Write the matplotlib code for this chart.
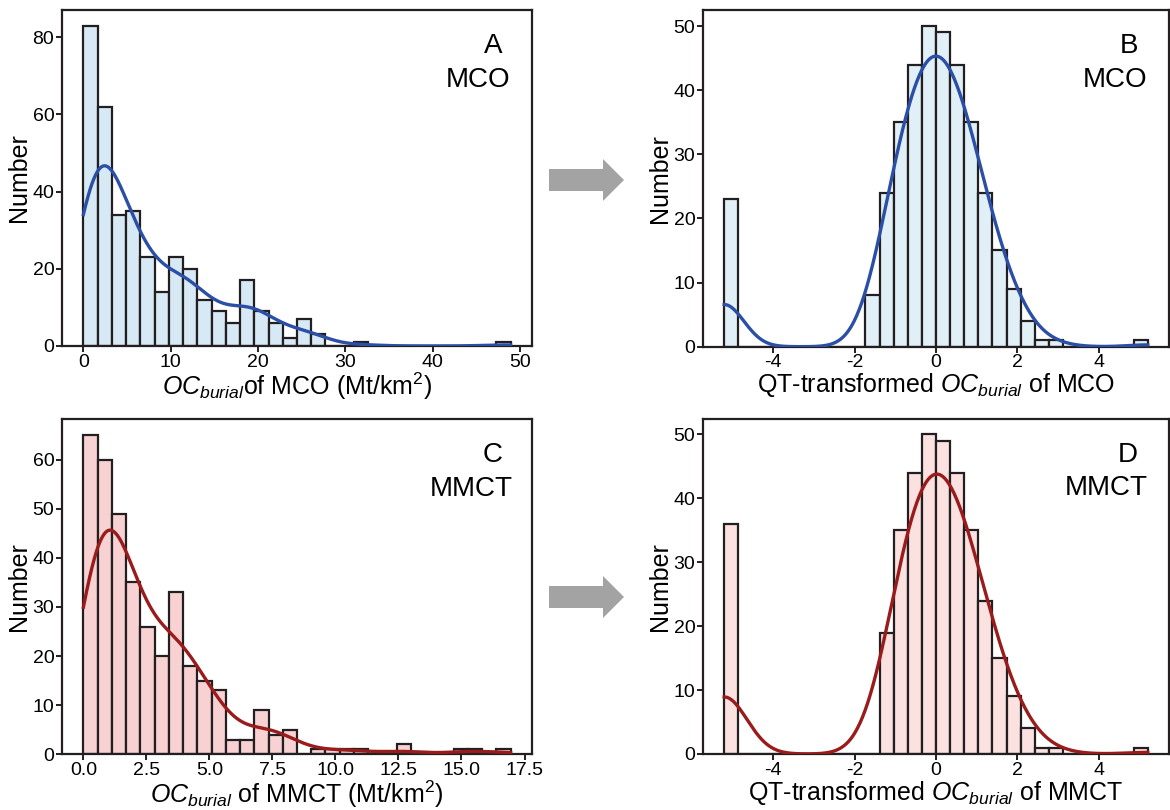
import numpy as np
import matplotlib
matplotlib.use("Agg")
import matplotlib.pyplot as plt
from matplotlib.patches import Polygon

plt.rcParams['font.family'] = ['Liberation Sans', 'DejaVu Sans']
plt.rcParams['mathtext.fontset'] = 'custom'
plt.rcParams['mathtext.rm'] = 'Liberation Sans'
plt.rcParams['mathtext.it'] = 'Liberation Sans:italic'
plt.rcParams['axes.unicode_minus'] = False

# ---- data: counts in 30 equal-width bins spanning each data range ----
mco_range = (0.0, 48.9)
mco_counts = [83, 62, 34, 35, 23, 14, 23, 20, 12, 9, 6, 17, 9, 6, 2,
              7, 3, 0, 0, 1, 0, 0, 0, 0, 0, 0, 0, 0, 0, 1]

mmct_range = (0.0, 16.95)
mmct_counts = [65, 60, 49, 35, 26, 20, 33, 18, 15, 13, 3, 3, 9, 4, 5,
               0, 1, 1, 1, 1, 0, 0, 2, 0, 0, 0, 1, 1, 0, 1]

# quantile-transformed values are clipped to +/-5.199
qt_range = (-5.199, 5.199)
mco_qt_counts = [23, 0, 0, 0, 0, 0, 0, 0, 0, 0, 8, 24, 35, 44, 50,
                 49, 44, 35, 24, 15, 9, 4, 1, 1, 0, 0, 0, 0, 0, 1]
mmct_qt_counts = [36, 0, 0, 0, 0, 0, 0, 0, 0, 0, 0, 19, 35, 44, 50,
                  49, 44, 35, 24, 15, 9, 4, 1, 1, 0, 0, 0, 0, 0, 1]

raw_xticks_mco = [0, 10, 20, 30, 40, 50]
raw_yticks_mco = [0, 20, 40, 60, 80]
raw_xticks_mmct = [0.0, 2.5, 5.0, 7.5, 10.0, 12.5, 15.0, 17.5]
raw_yticks_mmct = [0, 10, 20, 30, 40, 50, 60]
qt_xticks = [-4, -2, 0, 2, 4]
qt_yticks = [0, 10, 20, 30, 40, 50]

EDGE = '#231f20'
BLUE_FILL_A = '#d6e9f4'
BLUE_FILL_B = '#e1f0f7'
RED_FILL_C = '#f8d2d2'
RED_FILL_D = '#fce1e1'
BLUE_LINE = '#2b4fa6'
RED_LINE = '#9a1b1b'

W, H = 1170, 810
fig = plt.figure(figsize=(W / 100, H / 100), dpi=100)


def px_axes(left, top, right, bottom):
    return fig.add_axes([left / W, 1 - bottom / H, (right - left) / W, (bottom - top) / H])


def panel(ax, rng, counts, fill, line, xticks, yticks, xticklabels=None,
          clipped=False, bw_adjust=1.0):
    lo, hi = rng
    counts = np.asarray(counts)
    edges = np.linspace(lo, hi, len(counts) + 1)
    width = edges[1] - edges[0]
    ax.bar(edges[:-1], counts, width=width, align='edge', color=fill,
           edgecolor=EDGE, linewidth=1.6, zorder=2)
    # Gaussian KDE (Scott's rule) of the binned sample, scaled to counts
    centers = (edges[:-1] + edges[1:]) / 2
    if clipped:
        # values in the end bins sit on the clipping bounds
        centers[0], centers[-1] = lo, hi
    sample = np.repeat(centers, counts)
    n = sample.size
    bw = bw_adjust * sample.std(ddof=1) * n ** (-0.2)
    grid = np.linspace(lo, hi, 500)
    dens = np.exp(-0.5 * ((grid[:, None] - sample[None, :]) / bw) ** 2).sum(1)
    dens /= n * bw * np.sqrt(2 * np.pi)
    ax.plot(grid, dens * n * width, color=line, lw=2.4, zorder=3)
    ax.set_xticks(xticks)
    if xticklabels is not None:
        ax.set_xticklabels(xticklabels)
    ax.set_yticks(yticks)
    for s in ax.spines.values():
        s.set_linewidth(1.6)
        s.set_color(EDGE)
    ax.tick_params(direction='out', length=4, width=1.4, color=EDGE,
                   labelsize=14, pad=1.5)


axA = px_axes(62, 9.6, 532, 346)
axB = px_axes(703, 10, 1169, 346.7)
axC = px_axes(62, 419, 532, 754.3)
axD = px_axes(703, 418.5, 1169, 754)

panel(axA, mco_range, mco_counts, BLUE_FILL_A, BLUE_LINE, raw_xticks_mco, raw_yticks_mco,
      bw_adjust=1.08)
panel(axB, qt_range, mco_qt_counts, BLUE_FILL_B, BLUE_LINE, qt_xticks, qt_yticks,
      clipped=True)
panel(axC, mmct_range, mmct_counts, RED_FILL_C, RED_LINE, raw_xticks_mmct, raw_yticks_mmct,
      [f'{v:.1f}' for v in raw_xticks_mmct], bw_adjust=1.1)
panel(axD, qt_range, mmct_qt_counts, RED_FILL_D, RED_LINE, qt_xticks, qt_yticks,
      clipped=True)

oc = r'$\mathit{OC}_{\mathit{burial}}$'
labels = {
    axA: oc + r'of MCO (Mt/km$^{2}$)',
    axB: 'QT-transformed ' + oc + ' of MCO',
    axC: oc + r' of MMCT (Mt/km$^{2}$)',
    axD: 'QT-transformed ' + oc + ' of MMCT',
}
for ax, lab in labels.items():
    ax.set_xlabel(lab, fontsize=18, labelpad=0)
    ax.set_ylabel('Number', fontsize=18, labelpad=1)

tags = [
    (axA, 'A', 'MCO', 0.938, 0.953),
    (axB, 'B', 'MCO', 0.933, 0.953),
    (axC, 'C', 'MMCT', 0.938, 0.96),
    (axD, 'D', 'MMCT', 0.933, 0.955),
]
for ax, letter, name, xl, xn in tags:
    ax.text(xl, 0.892, letter, transform=ax.transAxes, ha='right', va='center', fontsize=20)
    ax.text(xn, 0.792, name, transform=ax.transAxes, ha='right', va='center', fontsize=20)


def block_arrow(cy):
    pts = [(549, cy - 11), (603, cy - 11), (603, cy - 21), (624, cy),
           (603, cy + 21), (603, cy + 11), (549, cy + 11)]
    fig.patches.append(Polygon([(x / W, 1 - y / H) for x, y in pts], closed=True,
                               transform=fig.transFigure, facecolor='#a3a3a3',
                               edgecolor='none'))


block_arrow(180)
block_arrow(597)

fig.savefig('out.png', dpi=100)
